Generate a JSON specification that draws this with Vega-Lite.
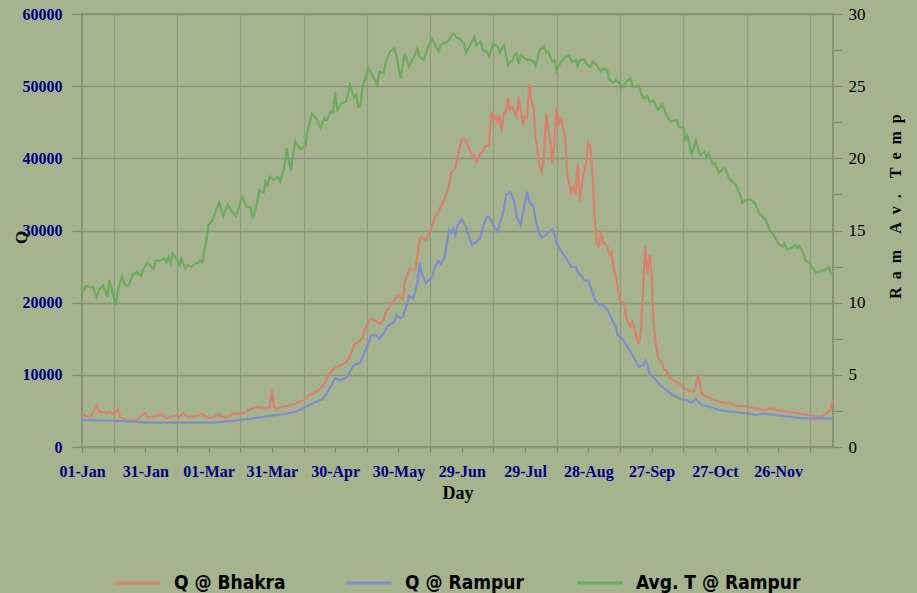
{
  "$schema": "https://vega.github.io/schema/vega-lite/v6.json",
  "width": 751,
  "height": 433,
  "autosize": {"type": "none"},
  "padding": {"left": 82, "top": 14, "right": 84, "bottom": 146},
  "background": "#a5b38f",
  "config": {
    "view": {"stroke": "#7b896c", "strokeWidth": 1.5},
    "axis": {
      "labelFont": "Liberation Serif",
      "titleFont": "Liberation Serif",
      "domain": false,
      "tickColor": "#7b896c",
      "tickWidth": 1.2
    },
    "legend": {
      "labelFont": "DejaVu Sans Condensed",
      "labelFontWeight": "bold",
      "labelFontSize": 19,
      "labelColor": "#000000",
      "symbolType": "stroke",
      "symbolSize": 2025,
      "symbolStrokeWidth": 3,
      "labelOffset": 12,
      "labelLimit": 300
    }
  },
  "datasets": {
    "bhakra": [
      {"d":0,"v":4530},{"d":2,"v":4300},{"d":4,"v":4200},{"d":7,"v":5720},{"d":8,"v":4900},{"d":11,"v":4800},{"d":12,"v":4670},{"d":13,"v":4890},{"d":15,"v":4530},{"d":17,"v":5220},{"d":18,"v":4200},{"d":20,"v":3840},{"d":24,"v":3640},{"d":26,"v":3740},{"d":28,"v":4300},{"d":30,"v":4670},{"d":31,"v":4120},{"d":34,"v":4120},{"d":35,"v":4300},{"d":38,"v":4530},{"d":40,"v":3980},{"d":42,"v":4200},{"d":45,"v":4430},{"d":46,"v":4120},{"d":48,"v":4670},{"d":50,"v":4120},{"d":51,"v":4200},{"d":54,"v":4300},{"d":57,"v":4570},{"d":58,"v":4300},{"d":60,"v":3980},{"d":62,"v":4120},{"d":65,"v":4570},{"d":66,"v":4200},{"d":68,"v":4120},{"d":70,"v":4300},{"d":72,"v":4670},{"d":73,"v":4570},{"d":75,"v":4670},{"d":77,"v":4750},{"d":79,"v":5130},{"d":81,"v":5360},{"d":83,"v":5580},{"d":85,"v":5500},{"d":87,"v":5360},{"d":89,"v":5580},{"d":90,"v":7850},{"d":91,"v":5580},{"d":92,"v":5220},{"d":94,"v":5500},{"d":97,"v":5680},{"d":99,"v":5820},{"d":101,"v":5960},{"d":103,"v":6300},{"d":105,"v":6420},{"d":107,"v":7070},{"d":109,"v":7340},{"d":111,"v":7660},{"d":113,"v":8130},{"d":115,"v":8800},{"d":117,"v":10100},{"d":119,"v":10770},{"d":122,"v":11220},{"d":125,"v":11680},{"d":127,"v":12510},{"d":129,"v":14130},{"d":131,"v":14590},{"d":133,"v":15060},{"d":134,"v":16210},{"d":136,"v":17360},{"d":137,"v":17820},{"d":139,"v":17500},{"d":141,"v":17040},{"d":143,"v":17600},{"d":144,"v":18750},{"d":146,"v":19440},{"d":148,"v":20370},{"d":150,"v":21060},{"d":152,"v":20470},{"d":153,"v":22900},{"d":155,"v":24530},{"d":156,"v":24760},{"d":158,"v":24530},{"d":159,"v":26370},{"d":160,"v":28680},{"d":161,"v":29140},{"d":163,"v":28680},{"d":164,"v":29240},{"d":166,"v":30530},{"d":167,"v":31690},{"d":169,"v":32600},{"d":170,"v":33300},{"d":172,"v":34460},{"d":174,"v":36200},{"d":175,"v":38000},{"d":177,"v":38600},{"d":178,"v":40230},{"d":180,"v":42640},{"d":182,"v":42440},{"d":184,"v":40920},{"d":185,"v":40230},{"d":186,"v":40460},{"d":187,"v":39530},{"d":189,"v":40700},{"d":190,"v":40920},{"d":191,"v":41610},{"d":193,"v":41850},{"d":194,"v":46460},{"d":195,"v":45310},{"d":196,"v":45870},{"d":197,"v":45080},{"d":198,"v":46000},{"d":199,"v":43690},{"d":200,"v":46240},{"d":201,"v":46460},{"d":202,"v":48320},{"d":203,"v":46700},{"d":204,"v":47070},{"d":205,"v":46460},{"d":206,"v":45770},{"d":207,"v":48540},{"d":208,"v":46700},{"d":209,"v":44620},{"d":210,"v":45870},{"d":211,"v":45690},{"d":212,"v":50300},{"d":213,"v":47710},{"d":214,"v":47160},{"d":215,"v":43000},{"d":217,"v":38840},{"d":218,"v":38150},{"d":219,"v":40230},{"d":220,"v":46150},{"d":222,"v":42170},{"d":223,"v":39220},{"d":224,"v":42310},{"d":225,"v":46930},{"d":226,"v":44480},{"d":227,"v":45690},{"d":229,"v":43000},{"d":230,"v":37930},{"d":231,"v":36310},{"d":232,"v":35240},{"d":233,"v":36310},{"d":234,"v":34920},{"d":235,"v":39310},{"d":236,"v":33990},{"d":237,"v":36540},{"d":239,"v":39530},{"d":240,"v":42170},{"d":241,"v":41600},{"d":242,"v":37690},{"d":243,"v":31910},{"d":244,"v":28230},{"d":245,"v":27850},{"d":246,"v":29830},{"d":247,"v":28450},{"d":249,"v":27850},{"d":250,"v":26610},{"d":251,"v":27060},{"d":252,"v":24530},{"d":253,"v":23830},{"d":255,"v":20370},{"d":256,"v":19910},{"d":257,"v":20000},{"d":258,"v":17830},{"d":260,"v":16670},{"d":261,"v":17360},{"d":262,"v":16120},{"d":263,"v":15060},{"d":264,"v":14270},{"d":265,"v":16210},{"d":266,"v":22210},{"d":267,"v":27760},{"d":268,"v":24070},{"d":269,"v":26610},{"d":270,"v":23600},{"d":271,"v":17140},{"d":272,"v":14370},{"d":273,"v":12510},{"d":275,"v":11600},{"d":276,"v":10670},{"d":277,"v":10670},{"d":278,"v":9740},{"d":280,"v":9280},{"d":283,"v":8830},{"d":285,"v":8270},{"d":287,"v":7900},{"d":290,"v":7660},{"d":291,"v":8590},{"d":292,"v":9980},{"d":293,"v":8590},{"d":294,"v":7340},{"d":296,"v":6970},{"d":299,"v":6610},{"d":302,"v":6280},{"d":306,"v":6060},{"d":307,"v":6140},{"d":310,"v":5680},{"d":314,"v":5680},{"d":317,"v":5500},{"d":320,"v":5310},{"d":323,"v":5130},{"d":327,"v":5360},{"d":329,"v":5130},{"d":332,"v":5030},{"d":337,"v":4750},{"d":342,"v":4570},{"d":347,"v":4300},{"d":350,"v":4200},{"d":352,"v":4430},{"d":354,"v":4890},{"d":355,"v":5220},{"d":356,"v":6500}
    ],
    "rampur": [
      {"d":0,"v":3740},{"d":9,"v":3700},{"d":18,"v":3600},{"d":32,"v":3370},{"d":48,"v":3370},{"d":62,"v":3370},{"d":72,"v":3640},{"d":81,"v":3980},{"d":87,"v":4200},{"d":92,"v":4430},{"d":96,"v":4570},{"d":101,"v":4890},{"d":104,"v":5220},{"d":107,"v":5680},{"d":110,"v":6140},{"d":114,"v":6610},{"d":116,"v":7440},{"d":118,"v":8450},{"d":120,"v":9520},{"d":122,"v":9280},{"d":124,"v":9380},{"d":126,"v":9840},{"d":128,"v":10900},{"d":129,"v":11360},{"d":132,"v":11680},{"d":133,"v":12510},{"d":135,"v":13900},{"d":137,"v":15380},{"d":139,"v":15520},{"d":141,"v":15060},{"d":143,"v":15760},{"d":145,"v":16770},{"d":148,"v":17360},{"d":149,"v":18290},{"d":151,"v":17830},{"d":152,"v":18060},{"d":154,"v":19680},{"d":155,"v":20920},{"d":156,"v":20740},{"d":157,"v":20600},{"d":159,"v":22680},{"d":160,"v":25450},{"d":161,"v":24070},{"d":163,"v":22680},{"d":164,"v":23040},{"d":166,"v":23600},{"d":167,"v":24760},{"d":169,"v":25820},{"d":170,"v":25360},{"d":172,"v":26370},{"d":173,"v":28230},{"d":174,"v":30070},{"d":175,"v":29700},{"d":176,"v":30300},{"d":177,"v":29380},{"d":178,"v":30620},{"d":180,"v":31550},{"d":182,"v":30530},{"d":184,"v":28680},{"d":185,"v":27990},{"d":187,"v":28450},{"d":189,"v":29060},{"d":190,"v":30530},{"d":192,"v":31910},{"d":193,"v":31830},{"d":195,"v":30760},{"d":197,"v":29830},{"d":198,"v":31000},{"d":200,"v":32840},{"d":201,"v":34920},{"d":203,"v":35380},{"d":205,"v":33990},{"d":206,"v":31910},{"d":208,"v":30760},{"d":209,"v":32470},{"d":210,"v":33850},{"d":211,"v":35380},{"d":212,"v":33990},{"d":214,"v":33300},{"d":215,"v":31460},{"d":217,"v":29380},{"d":218,"v":29060},{"d":220,"v":29380},{"d":221,"v":29700},{"d":223,"v":30170},{"d":224,"v":29380},{"d":225,"v":28230},{"d":227,"v":27200},{"d":230,"v":25910},{"d":232,"v":24900},{"d":234,"v":24990},{"d":235,"v":24290},{"d":237,"v":23600},{"d":238,"v":23140},{"d":240,"v":23040},{"d":242,"v":21380},{"d":243,"v":20470},{"d":245,"v":19680},{"d":247,"v":19680},{"d":249,"v":18980},{"d":251,"v":17830},{"d":253,"v":16670},{"d":254,"v":15520},{"d":256,"v":15060},{"d":258,"v":14130},{"d":261,"v":12750},{"d":263,"v":11680},{"d":264,"v":11130},{"d":266,"v":11360},{"d":267,"v":11960},{"d":268,"v":11500},{"d":269,"v":10210},{"d":272,"v":9280},{"d":274,"v":8590},{"d":277,"v":7900},{"d":280,"v":7210},{"d":283,"v":6750},{"d":287,"v":6420},{"d":289,"v":6140},{"d":290,"v":6420},{"d":291,"v":6610},{"d":292,"v":6280},{"d":294,"v":5820},{"d":298,"v":5500},{"d":302,"v":5130},{"d":307,"v":4890},{"d":312,"v":4750},{"d":317,"v":4570},{"d":320,"v":4430},{"d":322,"v":4670},{"d":328,"v":4430},{"d":332,"v":4300},{"d":337,"v":4120},{"d":343,"v":3980},{"d":350,"v":3980},{"d":356,"v":3980}
    ],
    "temp": [
      {"d":0,"v":10.7},{"d":2,"v":11.15},{"d":4,"v":11.06},{"d":5,"v":11.15},{"d":7,"v":10.37},{"d":8,"v":10.88},{"d":10,"v":11.22},{"d":12,"v":10.41},{"d":13,"v":11.57},{"d":16,"v":9.84},{"d":17,"v":10.88},{"d":19,"v":11.85},{"d":20,"v":11.29},{"d":22,"v":11.15},{"d":24,"v":11.92},{"d":26,"v":12.15},{"d":28,"v":11.85},{"d":29,"v":12.31},{"d":31,"v":12.77},{"d":34,"v":12.35},{"d":35,"v":12.91},{"d":37,"v":12.91},{"d":39,"v":13.07},{"d":40,"v":12.82},{"d":41,"v":13.19},{"d":42,"v":12.77},{"d":43,"v":13.42},{"d":45,"v":13.0},{"d":46,"v":12.61},{"d":47,"v":13.07},{"d":49,"v":12.38},{"d":50,"v":12.61},{"d":52,"v":12.49},{"d":54,"v":12.77},{"d":55,"v":12.73},{"d":56,"v":12.96},{"d":57,"v":12.82},{"d":58,"v":13.65},{"d":59,"v":14.34},{"d":60,"v":15.38},{"d":62,"v":15.73},{"d":63,"v":16.19},{"d":65,"v":16.93},{"d":67,"v":16.0},{"d":69,"v":16.79},{"d":70,"v":16.54},{"d":73,"v":15.96},{"d":74,"v":16.42},{"d":76,"v":17.3},{"d":78,"v":16.65},{"d":80,"v":16.58},{"d":81,"v":15.84},{"d":83,"v":16.88},{"d":84,"v":17.8},{"d":86,"v":17.62},{"d":87,"v":18.4},{"d":88,"v":18.1},{"d":89,"v":18.73},{"d":91,"v":18.5},{"d":93,"v":18.73},{"d":94,"v":18.38},{"d":95,"v":18.96},{"d":96,"v":19.42},{"d":97,"v":20.69},{"d":99,"v":19.14},{"d":101,"v":21.15},{"d":102,"v":20.92},{"d":104,"v":20.62},{"d":106,"v":20.92},{"d":107,"v":21.96},{"d":109,"v":23.07},{"d":111,"v":22.77},{"d":113,"v":22.15},{"d":115,"v":22.77},{"d":116,"v":22.65},{"d":118,"v":23.23},{"d":119,"v":23.16},{"d":120,"v":24.55},{"d":121,"v":23.35},{"d":123,"v":23.81},{"d":125,"v":23.92},{"d":126,"v":24.39},{"d":127,"v":25.08},{"d":129,"v":24.23},{"d":130,"v":24.39},{"d":131,"v":23.58},{"d":132,"v":23.7},{"d":133,"v":24.96},{"d":135,"v":25.89},{"d":136,"v":26.24},{"d":138,"v":25.66},{"d":140,"v":25.08},{"d":141,"v":26.0},{"d":143,"v":25.89},{"d":144,"v":26.69},{"d":146,"v":27.39},{"d":148,"v":27.62},{"d":149,"v":27.16},{"d":151,"v":25.54},{"d":153,"v":27.27},{"d":155,"v":26.35},{"d":157,"v":26.93},{"d":159,"v":27.62},{"d":160,"v":27.04},{"d":162,"v":26.81},{"d":164,"v":27.73},{"d":166,"v":28.25},{"d":167,"v":27.97},{"d":169,"v":27.39},{"d":170,"v":27.85},{"d":173,"v":28.08},{"d":174,"v":28.2},{"d":176,"v":28.68},{"d":178,"v":28.31},{"d":179,"v":28.31},{"d":181,"v":27.97},{"d":182,"v":27.32},{"d":184,"v":27.85},{"d":186,"v":28.43},{"d":187,"v":27.85},{"d":189,"v":28.08},{"d":190,"v":27.5},{"d":192,"v":27.39},{"d":193,"v":27.09},{"d":195,"v":27.97},{"d":197,"v":27.73},{"d":198,"v":27.32},{"d":200,"v":27.85},{"d":202,"v":26.46},{"d":204,"v":26.81},{"d":205,"v":27.16},{"d":206,"v":27.27},{"d":207,"v":26.53},{"d":208,"v":27.16},{"d":209,"v":27.04},{"d":211,"v":26.81},{"d":212,"v":26.86},{"d":214,"v":26.69},{"d":215,"v":26.4},{"d":217,"v":27.5},{"d":219,"v":27.78},{"d":220,"v":27.32},{"d":221,"v":27.39},{"d":223,"v":26.69},{"d":224,"v":26.81},{"d":225,"v":26.07},{"d":227,"v":26.69},{"d":229,"v":27.0},{"d":231,"v":27.16},{"d":232,"v":26.69},{"d":234,"v":26.81},{"d":235,"v":26.4},{"d":236,"v":26.81},{"d":238,"v":26.86},{"d":239,"v":26.58},{"d":241,"v":26.31},{"d":242,"v":26.69},{"d":244,"v":26.46},{"d":246,"v":26.0},{"d":247,"v":26.24},{"d":249,"v":26.12},{"d":250,"v":25.43},{"d":252,"v":25.24},{"d":253,"v":25.43},{"d":255,"v":25.2},{"d":256,"v":24.92},{"d":258,"v":25.31},{"d":260,"v":25.54},{"d":261,"v":24.96},{"d":264,"v":25.01},{"d":265,"v":24.55},{"d":266,"v":24.16},{"d":268,"v":24.32},{"d":269,"v":23.92},{"d":271,"v":23.99},{"d":273,"v":23.35},{"d":275,"v":23.74},{"d":277,"v":23.0},{"d":279,"v":22.54},{"d":282,"v":22.65},{"d":283,"v":22.15},{"d":285,"v":22.19},{"d":286,"v":21.27},{"d":287,"v":21.55},{"d":289,"v":20.23},{"d":291,"v":21.22},{"d":293,"v":20.23},{"d":295,"v":20.46},{"d":296,"v":20.11},{"d":297,"v":20.35},{"d":299,"v":19.61},{"d":300,"v":19.65},{"d":302,"v":19.0},{"d":304,"v":19.31},{"d":305,"v":19.24},{"d":307,"v":18.55},{"d":310,"v":18.15},{"d":312,"v":17.46},{"d":313,"v":16.93},{"d":315,"v":17.11},{"d":317,"v":17.16},{"d":319,"v":16.88},{"d":321,"v":16.19},{"d":324,"v":15.77},{"d":326,"v":15.03},{"d":328,"v":14.69},{"d":330,"v":14.11},{"d":332,"v":13.88},{"d":333,"v":14.11},{"d":334,"v":13.7},{"d":336,"v":13.77},{"d":338,"v":14.0},{"d":339,"v":13.77},{"d":340,"v":13.93},{"d":342,"v":13.42},{"d":343,"v":12.91},{"d":345,"v":12.73},{"d":348,"v":12.08},{"d":350,"v":12.15},{"d":352,"v":12.26},{"d":354,"v":12.45},{"d":355,"v":12.03},{"d":356,"v":11.99}
    ]
  },
  "encoding": {
    "x": {
      "field": "d", "type": "quantitative",
      "scale": {"domain": [0, 356], "nice": false, "zero": false},
      "axis": {
        "values": [0,15,30,45,60,75,90,105,120,135,150,165,180,195,210,225,240,255,270,285,300,315,330,345],
        "labelExpr": "datum.value % 30 == 0 ? ['01-Jan','31-Jan','01-Mar','31-Mar','30-Apr','30-May','29-Jun','29-Jul','28-Aug','27-Sep','27-Oct','26-Nov'][datum.value/30] : ''",
        "labelOverlap": false,
        "labelFlush": false,
        "labelFontWeight": "bold",
        "labelFontSize": 16,
        "labelColor": "#000080",
        "labelPadding": 11,
        "tickSize": 5,
        "grid": true,
        "gridColor": {"condition": {"test": "datum.value % 30 == 15", "value": "#8f9c80"}, "value": "rgba(0,0,0,0)"},
        "gridWidth": 1.2,
        "title": "Day",
        "titleFontSize": 18,
        "titleFontWeight": "bold",
        "titleColor": "#000000",
        "titlePadding": 5
      }
    }
  },
  "layer": [
    {
      "layer": [
        {
          "data": {"name": "bhakra"},
          "mark": {"type": "line", "strokeWidth": 2.2},
          "encoding": {
            "y": {
              "field": "v", "type": "quantitative",
              "scale": {"domain": [0, 60000], "nice": false},
              "axis": {
                "values": [0,5000,10000,15000,20000,25000,30000,35000,40000,45000,50000,55000,60000],
                "format": "d",
                "labelExpr": "datum.value % 10000 == 0 ? datum.label : ''",
                "labelFontWeight": "bold",
                "labelFontSize": 16,
                "labelColor": "#000080",
                "labelPadding": 10,
                "tickSize": 10,
                "grid": true,
                "gridColor": {"condition": {"test": "datum.value % 10000 == 0", "value": "#87947a"}, "value": "rgba(0,0,0,0)"},
                "gridWidth": 1.5,
                "title": "Q",
                "titleFontSize": 17,
                "titleFontWeight": "bold",
                "titleColor": "#000000",
                "titleX": -61,
                "titleY": 223,
                "titleBaseline": "middle"
              }
            },
            "color": {
              "datum": "Q @ Bhakra", "type": "nominal",
              "scale": {"domain": ["Q @ Bhakra", "Q @ Rampur", "Avg. T @ Rampur"], "range": ["#d8806b", "#7d8ccc", "#6caa5e"]},
              "legend": {"orient": "none", "direction": "horizontal", "legendX": 32, "legendY": 545, "title": null, "gridAlign": "all", "columnPadding": 1, "columns": 3}
            }
          }
        },
        {
          "data": {"name": "rampur"},
          "mark": {"type": "line", "strokeWidth": 2.2},
          "encoding": {
            "y": {"field": "v", "type": "quantitative"},
            "color": {"datum": "Q @ Rampur", "type": "nominal"}
          }
        }
      ]
    },
    {
      "data": {"name": "temp"},
      "mark": {"type": "line", "strokeWidth": 2.2},
      "encoding": {
        "y": {
          "field": "v", "type": "quantitative",
          "scale": {"domain": [0, 30], "nice": false},
          "axis": {
            "orient": "right",
            "values": [0,2.5,5,7.5,10,12.5,15,17.5,20,22.5,25,27.5,30],
            "labelExpr": "datum.value % 5 == 0 ? datum.label : ''",
            "labelFontSize": 17,
            "labelColor": "#000000",
            "labelPadding": 6,
            "tickSize": 9,
            "grid": false,
            "title": "R\u00a0\u00a0a\u00a0\u00a0m\u00a0\u00a0\u00a0\u00a0A\u00a0\u00a0v\u00a0\u00a0.\u00a0\u00a0\u00a0\u00a0T\u00a0\u00a0e\u00a0\u00a0m\u00a0\u00a0p",
            "titleFontSize": 16,
            "titleFontWeight": "bold",
            "titleColor": "#000000",
            "titleAngle": -90,
            "titleX": 62,
            "titleY": 192,
            "titleBaseline": "middle"
          }
        },
        "color": {"datum": "Avg. T @ Rampur", "type": "nominal"}
      }
    }
  ],
  "resolve": {"scale": {"y": "independent"}}
}
